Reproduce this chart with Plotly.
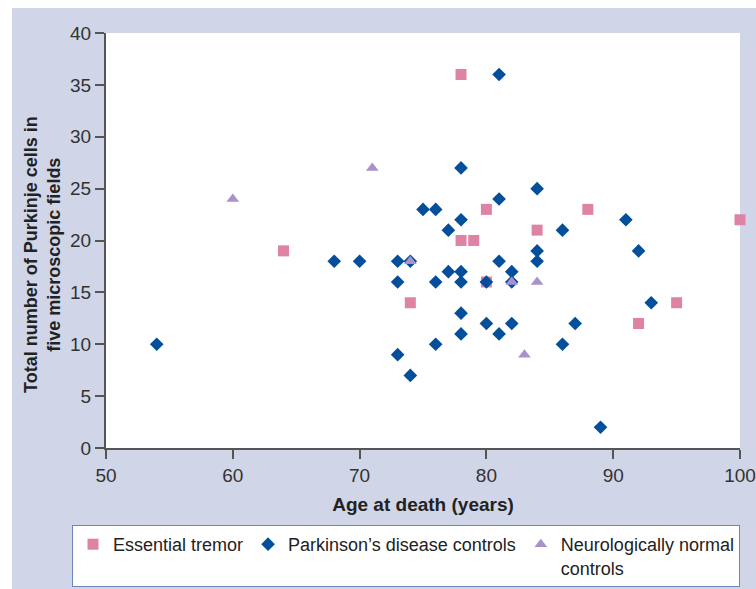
import plotly.graph_objects as go

et_age = [78, 64, 74, 78, 79, 80, 80, 84, 88, 92, 95, 100]
et_cells = [36, 19, 14, 20, 20, 23, 16, 21, 23, 12, 14, 22]

pd_age = [54, 68, 70, 73, 73, 73, 74, 74, 75, 76, 76, 76, 77, 77, 78, 78, 78, 78, 78, 78,
          80, 80, 81, 81, 81, 81, 82, 82, 82, 84, 84, 84, 86, 86, 87, 89, 91, 92, 93]
pd_cells = [10, 18, 18, 18, 16, 9, 18, 7, 23, 23, 16, 10, 21, 17, 27, 22, 17, 16, 13, 11,
            16, 12, 36, 24, 18, 11, 17, 16, 12, 25, 19, 18, 21, 10, 12, 2, 22, 19, 14]

nc_age = [60, 71, 74, 82, 84, 83]
nc_cells = [24, 27, 18, 16, 16, 9]

x_ticks = [50, 60, 70, 80, 90, 100]
y_ticks = [0, 5, 10, 15, 20, 25, 30, 35, 40]

FONT = "Arial, Liberation Sans, sans-serif"
BG = "#d0d6e8"

fig = go.Figure()
fig.add_trace(go.Scatter(x=et_age, y=et_cells, mode="markers", name="Essential tremor",
                         cliponaxis=False,
                         marker=dict(symbol="square", size=11, color="#de82a6",
                                     line=dict(width=0))))
fig.add_trace(go.Scatter(x=pd_age, y=pd_cells, mode="markers", name="Parkinson’s disease controls",
                         cliponaxis=False,
                         marker=dict(symbol="diamond", size=10.5, color="#034f9b",
                                     line=dict(width=0))))
fig.add_trace(go.Scatter(x=nc_age, y=nc_cells, mode="markers", name="Neurologically normal<br>controls",
                         cliponaxis=False,
                         marker=dict(symbol="triangle-up", size=11, color="#a991cb",
                                     line=dict(width=0))))

W, H = 756, 589
L, R, T, B = 106, 16, 33, 141
pw, ph = W - L - R, H - T - B

def px_x(p):
    return (p - L) / pw

def px_y(p):
    return (H - B - p) / ph

fig.add_shape(type="rect", xref="paper", yref="paper", x0=px_x(12), x1=px_x(W + 2),
              y0=px_y(H + 2), y1=px_y(8), fillcolor=BG, line=dict(width=0), layer="below")
fig.add_shape(type="rect", xref="paper", yref="paper", x0=0, x1=1, y0=0, y1=1,
              fillcolor="white", line=dict(width=0), layer="below")

fig.add_annotation(text="<b>Total number of Purkinje cells in<br>five microscopic fields</b>",
                   xref="paper", yref="paper", x=px_x(42), y=px_y(255),
                   xanchor="center", yanchor="middle", textangle=-90, showarrow=False,
                   font=dict(family=FONT, size=18, color="#222222"))

fig.update_layout(
    width=W, height=H,
    margin=dict(l=L, r=R, t=T, b=B, autoexpand=False),
    paper_bgcolor="white", plot_bgcolor="white",
    font=dict(family=FONT, size=18, color="#333333"),
    showlegend=True,
    legend=dict(orientation="h", x=px_x(72), y=px_y(525), xanchor="left", yanchor="top",
                bgcolor="white", bordercolor="#6b86c0", borderwidth=1, valign="top",
                font=dict(family=FONT, size=18, color="#222222"),
                itemwidth=30, tracegroupgap=0),
)
fig.update_xaxes(range=[50, 100], tickvals=x_ticks, showgrid=False, zeroline=False,
                 automargin=False,
                 showline=True, linecolor="#555555", linewidth=2, ticks="outside",
                 ticklen=9, tickwidth=1.5, tickcolor="#555555",
                 tickfont=dict(size=19, color="#333333"),
                 title=dict(text="<b>Age at death (years)</b>", font=dict(size=19, color="#222222"),
                            standoff=13))
fig.update_yaxes(range=[0, 40], tickvals=y_ticks, showgrid=False, zeroline=False,
                 automargin=False,
                 showline=True, linecolor="#555555", linewidth=2, ticks="outside",
                 ticklen=9, tickwidth=1.5, tickcolor="#555555",
                 tickfont=dict(size=19, color="#333333"))

fig.write_html("out.html", config={"displayModeBar": False},
               post_script="document.body.style.margin='0px';document.body.style.overflow='hidden';")
